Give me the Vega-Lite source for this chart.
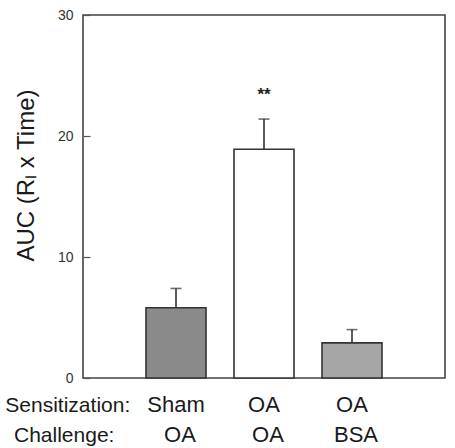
{
  "$schema": "https://vega.github.io/schema/vega-lite/v6.json",
  "autosize": "none",
  "padding": {"left": 83, "top": 15, "right": 10, "bottom": 70},
  "width": 362,
  "height": 363,
  "background": "white",
  "config": {
    "view": {"stroke": "#444", "strokeWidth": 1.6},
    "font": "Liberation Sans"
  },
  "data": {
    "values": [
      {"pos": 1, "sens": "Sham", "chal": "OA", "value": 5.8, "upper": 7.4, "group": "Sham/OA", "sig": ""},
      {"pos": 2, "sens": "OA", "chal": "OA", "value": 18.9, "upper": 21.4, "group": "OA/OA", "sig": "**"},
      {"pos": 3, "sens": "OA", "chal": "BSA", "value": 2.9, "upper": 4.0, "group": "OA/BSA", "sig": ""}
    ]
  },
  "encoding": {
    "x": {"field": "pos", "type": "quantitative", "scale": {"domain": [0, 4], "nice": false, "zero": false}, "axis": null}
  },
  "layer": [
    {
      "mark": {"type": "rule", "stroke": "#333", "strokeWidth": 1.6},
      "encoding": {
        "y": {"field": "value", "type": "quantitative"},
        "y2": {"field": "upper"}
      }
    },
    {
      "mark": {"type": "tick", "orient": "horizontal", "size": 11, "thickness": 1.6, "color": "#333"},
      "encoding": {
        "y": {"field": "upper", "type": "quantitative"}
      }
    },
    {
      "mark": {"type": "bar", "orient": "vertical", "width": 60, "stroke": "#333", "strokeWidth": 1.6},
      "encoding": {
        "y": {
          "field": "value", "type": "quantitative",
          "scale": {"domain": [0, 30], "nice": false},
          "axis": {
            "values": [0, 10, 20, 30],
            "domain": false,
            "grid": false,
            "tickSize": -7,
            "tickColor": "#555",
            "tickWidth": 1.2,
            "labelPadding": 17,
            "labelFontSize": 14,
            "labelColor": "#333",
            "labelFont": "Liberation Sans",
            "title": "AUC (Rₗ x Time)",
            "titleFont": "Liberation Sans",
            "titleFontSize": 24,
            "titleFontWeight": "normal",
            "titleColor": "#1a1a1a",
            "titleX": -57,
            "titleY": 160,
            "titleAngle": 270,
            "titleAlign": "center",
            "titleBaseline": "middle"
          }
        },
        "fill": {
          "field": "group", "type": "nominal",
          "scale": {"domain": ["Sham/OA", "OA/OA", "OA/BSA"], "range": ["#8a8a8a", "#ffffff", "#a6a6a6"]},
          "legend": null
        }
      }
    },
    {
      "mark": {"type": "text", "fontSize": 17, "fontWeight": "bold", "dy": -19, "baseline": "alphabetic", "color": "#222"},
      "encoding": {
        "y": {"field": "upper", "type": "quantitative"},
        "text": {"field": "sig"}
      }
    },
    {
      "mark": {"type": "text", "fontSize": 22, "baseline": "alphabetic", "align": "center", "color": "#1a1a1a"},
      "encoding": {
        "y": {"datum": -2.81},
        "text": {"field": "sens"}
      }
    },
    {
      "mark": {"type": "text", "fontSize": 22, "baseline": "alphabetic", "align": "center", "dx": 4, "color": "#1a1a1a"},
      "encoding": {
        "y": {"datum": -5.29},
        "text": {"field": "chal"}
      }
    },
    {
      "data": {"values": [{"lab": "Sensitization:", "lx": 0.48, "ly": -2.81}, {"lab": "Challenge:", "lx": 0.30, "ly": -5.29}]},
      "mark": {"type": "text", "fontSize": 21, "baseline": "alphabetic", "align": "right", "color": "#1a1a1a"},
      "encoding": {
        "x": {"field": "lx", "type": "quantitative"},
        "y": {"field": "ly", "type": "quantitative"},
        "text": {"field": "lab"}
      }
    }
  ]
}
